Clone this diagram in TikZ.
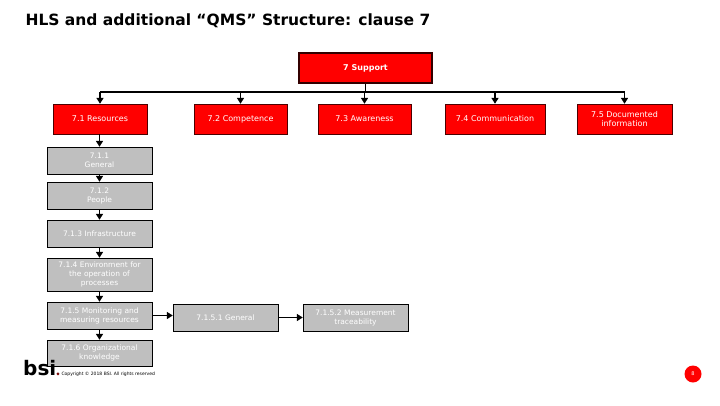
\documentclass[tikz,border=0pt]{standalone}
\usepackage{fontspec}
\setmainfont{DejaVu Sans}
\usetikzlibrary{arrows.meta}
\begin{document}
\begin{tikzpicture}[x=1pt,y=-1pt,
 red/.style={draw=black!70!red,fill=red,text=white,minimum height=30pt,font=\fontsize{8}{9}\selectfont,align=center,inner sep=1pt},
 gr/.style={draw=black,fill=black!25,text=white,text width=100pt,minimum width=105pt,font=\fontsize{7.5}{9}\selectfont,align=center,inner sep=1pt},
 ar/.style={-{Triangle[length=6pt,width=7pt]},line width=1.6pt}]
\useasboundingbox (0,0) rectangle (720,405);
\node[anchor=west,font=\bfseries\fontsize{15.5}{17}\selectfont] (t) at (22,21) {HLS and additional “QMS” Structure: clause 7};
\node[red,draw=black!80!red,line width=2pt,minimum width=133pt,font=\bfseries\fontsize{8}{9}\selectfont] (s) at (365.5,68) {7 Support};
\node[red,minimum width=94pt] (a) at (100,119) {7.1 Resources};
\node[red,minimum width=93pt] (b) at (240.5,119) {7.2 Competence};
\node[red,minimum width=93pt] (c) at (364.5,119) {7.3 Awareness};
\node[red,minimum width=100pt] (d) at (495,119) {7.4 Communication};
\node[red,minimum width=95pt] (e) at (624.5,119) {7.5 Documented\\information};
\coordinate (j) at (365.5,92);
\draw[line width=1.6pt] (s.south) -- (j);
\draw[line width=1.6pt] (a.north|-j) -- (e.north|-j);
\foreach \n in {a,b,c,d,e} \draw[ar] (\n.north|-j) -- (\n.north);
\node[gr,minimum height=27pt] (g1) at (99.5,160.5) {7.1.1\\General};
\node[gr,minimum height=27pt] (g2) at (99.5,195.5) {7.1.2\\People};
\node[gr,minimum height=27pt] (g3) at (99.5,233.5) {7.1.3 Infrastructure};
\node[gr,minimum height=33pt] (g4) at (99.5,274.5) {7.1.4 Environment for\\the operation of\\processes};
\node[gr,minimum height=27pt] (g5) at (99.5,315.5) {7.1.5 Monitoring and\\measuring resources};
\node[gr,minimum height=26pt] (g6) at (99.5,353) {7.1.6 Organizational\\knowledge};
\node[gr,minimum height=27pt] (h1) at (225.5,317.5) {7.1.5.1 General};
\node[gr,minimum height=27pt] (h2) at (355.5,317.5) {7.1.5.2 Measurement\\traceability};
\draw[ar] (a.south-|g1.north) -- (g1.north);
\draw[ar] (g1) -- (g2);
\draw[ar] (g2) -- (g3);
\draw[ar] (g3) -- (g4);
\draw[ar] (g4) -- (g5);
\draw[ar] (g5) -- (g6);
\draw[ar] (g5.east) -- (h1.west|-g5.east);
\draw[ar] (h1) -- (h2);
\node[anchor=west,font=\bfseries\fontsize{20}{20}\selectfont,inner sep=0pt] (l) at (23,368) {bsi};
\fill[red] (l.south east) ++(1.5,-2) circle (1.2pt);
\node[anchor=west,font=\fontsize{4.5}{5}\selectfont] (cp) at (58,374) {Copyright © 2018 BSI. All rights reserved};
\node[circle,fill=red,text=white,inner sep=0pt,minimum size=17pt,font=\fontsize{5}{6}\selectfont] (p) at (693,374) {8};
\end{tikzpicture}
\end{document}
